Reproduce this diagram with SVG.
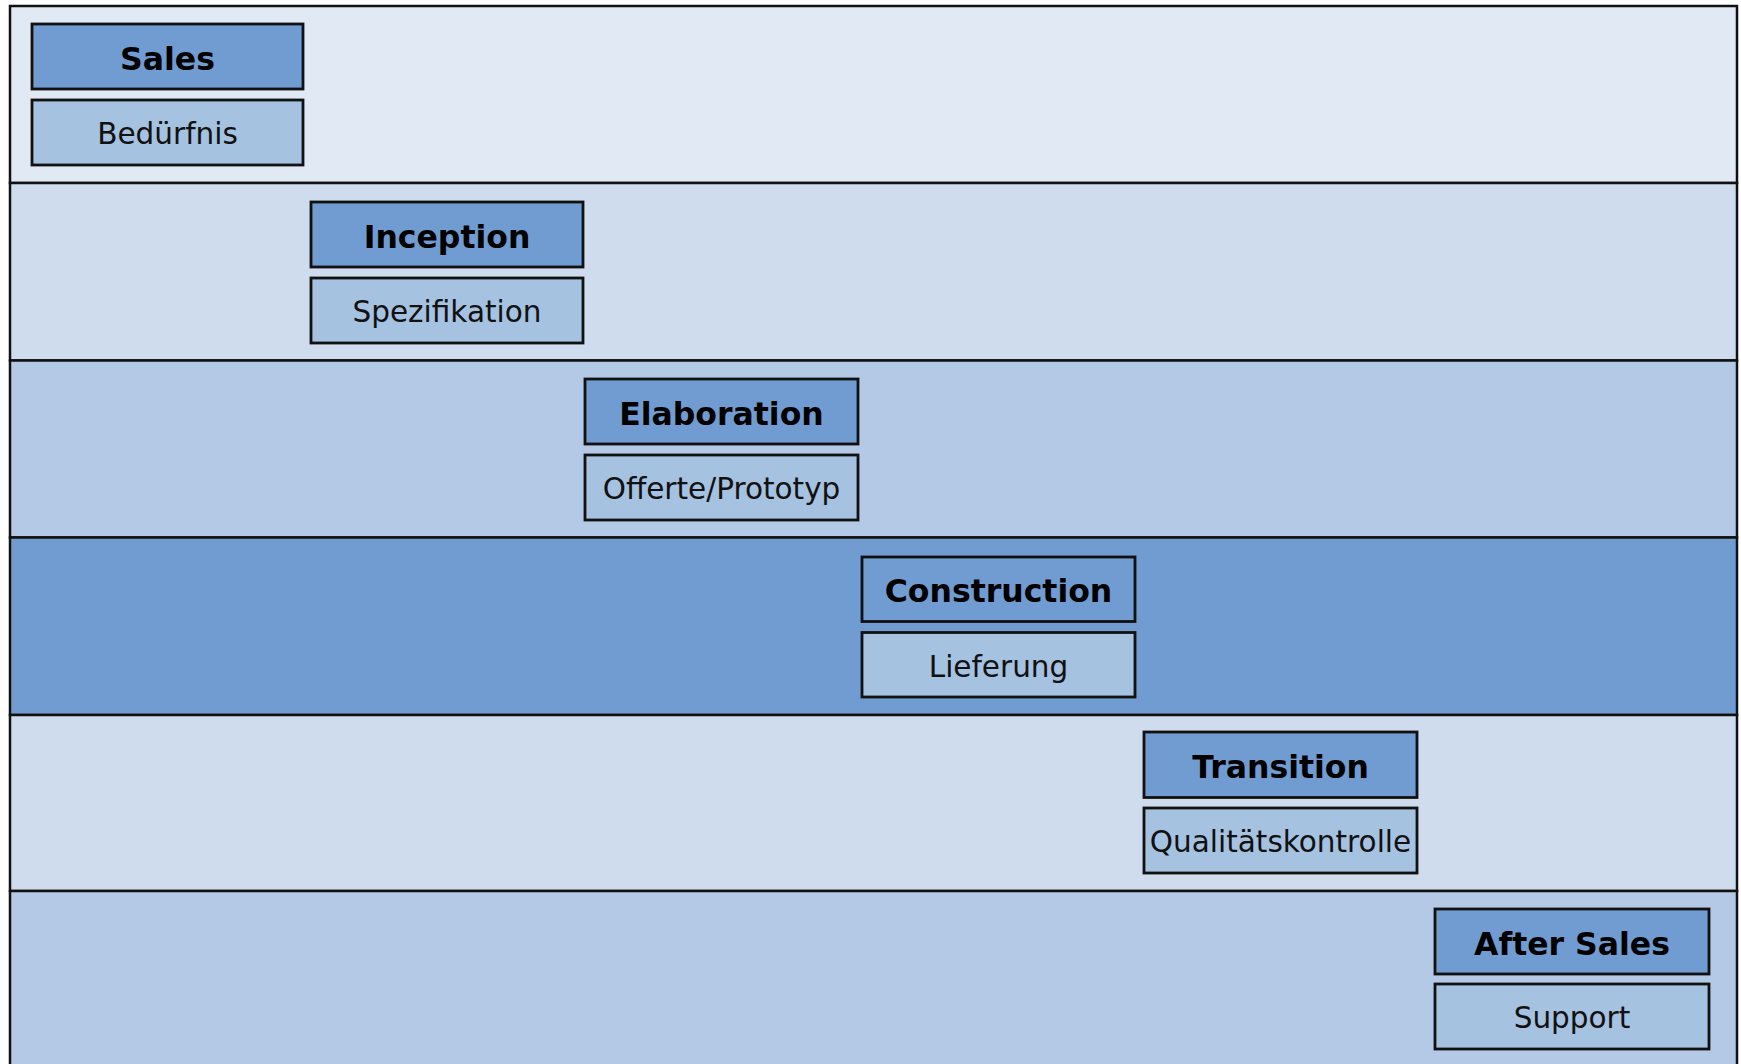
<svg xmlns="http://www.w3.org/2000/svg" width="1741" height="1064" viewBox="0 0 1741 1064">
<style>
.band{stroke:#111;stroke-width:2.5}
.b1{fill:#E1E9F4}.b2{fill:#CFDCED}.b3{fill:#B4C9E5}.b4{fill:#709CD1}
.hd{fill:#709CD1;stroke:#111;stroke-width:2.8}
.sb{fill:#A5C2E1;stroke:#111;stroke-width:2.8}
.th{font-family:"DejaVu Sans",Verdana,sans-serif;font-weight:bold;font-size:31.5px;fill:#000;text-anchor:middle}
.ts{font-family:"DejaVu Sans",Verdana,sans-serif;font-size:29.5px;fill:#111;text-anchor:middle}
</style>
<g id="bands">
<rect class="band b1" x="10" y="6" width="1727" height="177"/>
<rect class="band b2" x="10" y="183" width="1727" height="177.5"/>
<rect class="band b3" x="10" y="360.5" width="1727" height="177"/>
<rect class="band b4" x="10" y="537.5" width="1727" height="177.5"/>
<rect class="band b2" x="10" y="715" width="1727" height="176"/>
<rect class="band b3" x="10" y="891" width="1727" height="190"/>
</g>
<g id="sales">
<rect class="hd" x="32" y="24" width="271" height="65"/>
<text class="th" x="167.5" y="69.5">Sales</text>
<rect class="sb" x="32" y="100" width="271" height="65"/>
<text class="ts" x="167.5" y="144">Bedürfnis</text>
</g>
<g id="inception">
<rect class="hd" x="311" y="202" width="272" height="65"/>
<text class="th" x="447" y="247.5">Inception</text>
<rect class="sb" x="311" y="278" width="272" height="65"/>
<text class="ts" x="447" y="322">Spezifikation</text>
</g>
<g id="elaboration">
<rect class="hd" x="585" y="379" width="273" height="65"/>
<text class="th" x="721.5" y="424.5">Elaboration</text>
<rect class="sb" x="585" y="455" width="273" height="65"/>
<text class="ts" x="721.5" y="499">Offerte/Prototyp</text>
</g>
<g id="construction">
<rect class="hd" x="862" y="557" width="273" height="64.5"/>
<text class="th" x="998.5" y="602">Construction</text>
<rect class="sb" x="862" y="632.5" width="273" height="64.5"/>
<text class="ts" x="998.5" y="676.5">Lieferung</text>
</g>
<g id="transition">
<rect class="hd" x="1144" y="732" width="273" height="65.5"/>
<text class="th" x="1280.5" y="777.5">Transition</text>
<rect class="sb" x="1144" y="808" width="273" height="65"/>
<text class="ts" x="1280.5" y="852">Qualitätskontrolle</text>
</g>
<g id="aftersales">
<rect class="hd" x="1435" y="909" width="274" height="65"/>
<text class="th" x="1572" y="954.5">After Sales</text>
<rect class="sb" x="1435" y="984" width="274" height="65"/>
<text class="ts" x="1572" y="1028">Support</text>
</g>
<g id="connectors"/>
</svg>
